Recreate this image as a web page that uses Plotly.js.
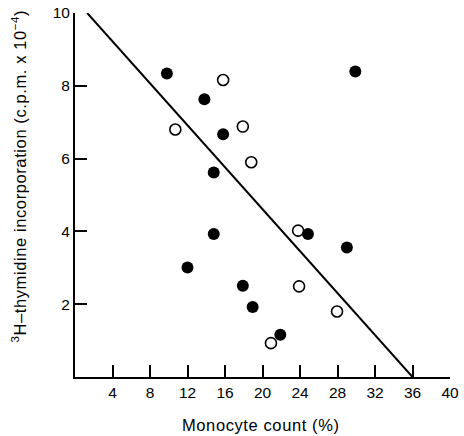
<!DOCTYPE html>
<html>
<head>
<meta charset="utf-8">
<script src="https://cdn.plot.ly/plotly-3.0.1.min.js"></script>
<style>
html,body{margin:0;padding:0;background:#fff;}
#chart{width:464px;height:436px;}
.annotation-text{letter-spacing:0.6px;}
</style>
</head>
<body>
<div id="chart"></div>
<script>
// Filled circles
const filledX = [9.8, 13.8, 15.8, 14.8, 29.9, 14.8, 12.0, 24.85, 29.0, 17.9, 18.95, 21.9];
const filledY = [8.34, 7.63, 6.67, 5.62, 8.39, 3.93, 3.01, 3.93, 3.56, 2.51, 1.92, 1.16];
// Open circles
const openX = [15.8, 10.7, 17.9, 18.8, 23.8, 23.9, 27.95, 20.9];
const openY = [8.16, 6.8, 6.88, 5.9, 4.02, 2.49, 1.8, 0.93];
// Regression line end points
const lineX = [1.3, 36];
const lineY = [10, 0];
const xTicks = [4, 8, 12, 16, 20, 24, 28, 32, 36, 40];
const yTicks = [2, 4, 6, 8, 10];
const xTitle = 'Monocyte count (%)';
const yTitle = '<sup>3</sup>H\u2013thymidine incorporation (c.p.m. x 10<sup>\u22124</sup>)';

const fam = 'Liberation Sans, Arial, sans-serif';
const tickFont = {family: fam, color: '#000', size: 15.5};
const titleFont = {family: fam, color: '#000', size: 16.5};

const traces = [
  {x: lineX, y: lineY, mode: 'lines', line: {color: '#000', width: 2}, hoverinfo: 'skip'},
  {x: filledX, y: filledY, mode: 'markers', marker: {symbol: 'circle', size: 12, color: '#000', line: {width: 0}}},
  {x: openX, y: openY, mode: 'markers', marker: {symbol: 'circle-open', size: 11, color: '#000', line: {width: 1.6, color: '#000'}}}
];

const layout = {
  width: 464, height: 436,
  margin: {l: 75, r: 14, t: 13, b: 59},
  showlegend: false,
  paper_bgcolor: '#fff', plot_bgcolor: '#fff',
  font: tickFont,
  xaxis: {
    range: [0, 40], tickvals: xTicks, ticktext: xTicks.map(String),
    showgrid: false, zeroline: false, showline: true, linecolor: '#000', linewidth: 2,
    ticks: 'inside', ticklen: 12, tickwidth: 2, tickcolor: '#000',
    tickfont: tickFont, automargin: false
  },
  yaxis: {
    range: [0, 10], tickvals: yTicks, ticktext: yTicks.map(String),
    showgrid: false, zeroline: false, showline: true, linecolor: '#000', linewidth: 2,
    ticks: 'inside', ticklen: 12, tickwidth: 2, tickcolor: '#000',
    tickfont: tickFont, automargin: false
  },
  annotations: [
    {text: xTitle, xref: 'paper', yref: 'paper', x: 0.4947, y: -0.132,
     xanchor: 'center', yanchor: 'middle', showarrow: false, font: titleFont},
    {text: yTitle, xref: 'paper', yref: 'paper', x: -0.149, y: 0.551, textangle: -90,
     xanchor: 'center', yanchor: 'middle', showarrow: false, font: titleFont}
  ]
};

Plotly.newPlot('chart', traces, layout, {staticPlot: true, displayModeBar: false});
</script>
</body>
</html>
